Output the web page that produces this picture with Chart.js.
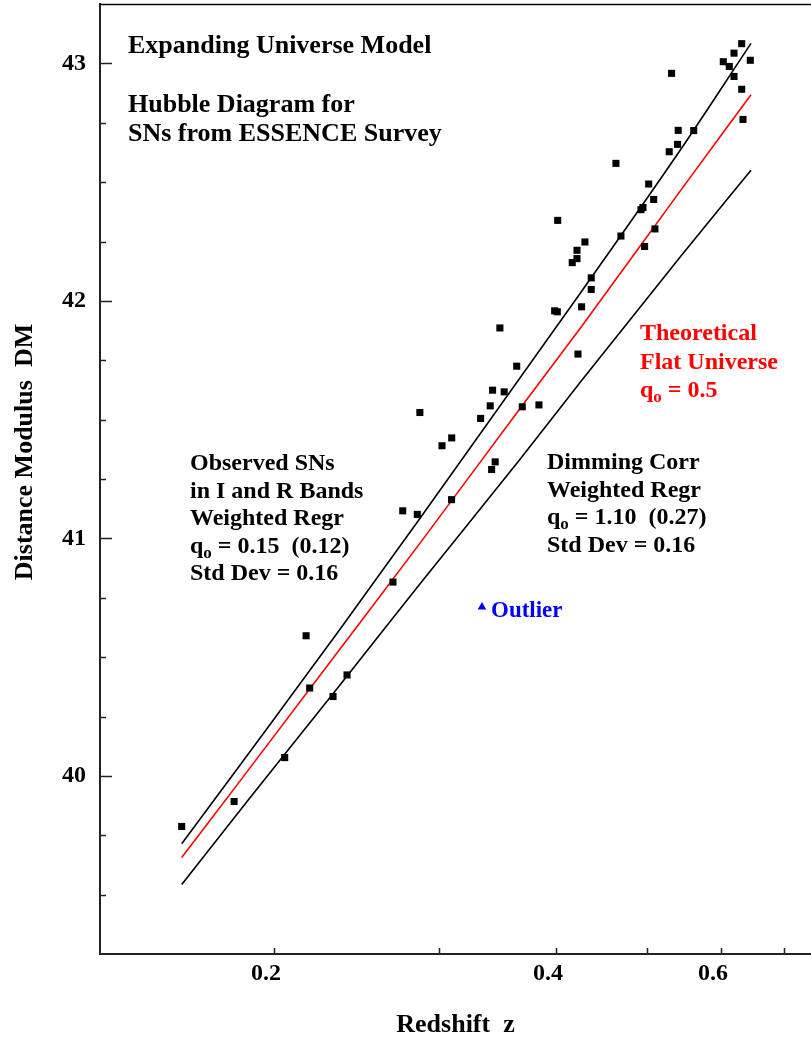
<!DOCTYPE html>
<html>
<head>
<meta charset="utf-8">
<script src="https://cdn.jsdelivr.net/npm/chart.js@4/dist/chart.umd.min.js"></script>
<style>
  html, body { margin: 0; padding: 0; background: #fff; }
  #wrap { width: 811px; height: 1041px; }
</style>
</head>
<body>
<div id="wrap"><canvas id="hubble" width="811" height="1041"></canvas></div>
<script>
// === Data ===
// observed supernovae (redshift z, distance modulus DM)
const zSN = [0.1594, 0.1813, 0.2053, 0.2164, 0.2183, 0.2312, 0.2393, 0.2679, 0.2744, 0.2844,
  0.2862, 0.3022, 0.3095, 0.3094, 0.3323, 0.3402, 0.3414, 0.3422, 0.3444, 0.3484,
  0.3521, 0.3631, 0.3681, 0.3835, 0.3986, 0.4012, 0.4016, 0.4162, 0.4211, 0.4211,
  0.4221, 0.4259, 0.4294, 0.4361, 0.4361, 0.4634, 0.4691, 0.4928, 0.4952, 0.4972,
  0.5022, 0.5084, 0.5100, 0.5282, 0.5313, 0.5392, 0.5400, 0.5610, 0.6033, 0.6122,
  0.6194, 0.6194, 0.6312, 0.6312, 0.6332, 0.6447];
const dmSN = [39.787, 39.892, 40.077, 40.590, 40.370, 40.334, 40.425, 40.816, 41.116, 41.101,
  41.530, 41.390, 41.423, 41.163, 41.505, 41.558, 41.290, 41.624, 41.322, 41.886,
  41.617, 41.725, 41.554, 41.562, 41.958, 41.954, 42.339, 42.161, 42.178, 42.213,
  41.776, 41.975, 42.248, 42.097, 42.048, 42.579, 42.273, 42.384, 42.393, 42.229,
  42.492, 42.427, 42.303, 42.628, 42.958, 42.659, 42.718, 42.717, 43.007, 42.987,
  43.043, 42.945, 43.083, 42.891, 42.764, 43.013];

// outlier
const zOutlier = [0.3334];
const dmOutlier = [40.711];

// weighted regression of observed SNs (upper black line)
const zFitObs = [0.1594, 0.1840, 0.2352, 0.2862, 0.4243, 0.5426, 0.6458];
const dmFitObs = [39.714, 40.046, 40.617, 41.084, 42.031, 42.634, 43.084];

// theoretical flat universe q0 = 0.5 (red line)
const zTheory = [0.1594, 0.1840, 0.2352, 0.2862, 0.3661, 0.4243, 0.5426, 0.6458];
const dmTheory = [39.656, 39.979, 40.534, 40.979, 41.547, 41.884, 42.462, 42.868];

// dimming corrected regression (lower black line)
const zFitDim = [0.1594, 0.1878, 0.2352, 0.2862, 0.3661, 0.4261, 0.5426, 0.6458];
const dmFitDim = [39.543, 39.899, 40.383, 40.808, 41.333, 41.666, 42.185, 42.550];

// axes
const xTickVals = [0.2, 0.3, 0.4, 0.5, 0.6, 0.7];
const xTickLabels = ['0.2', '', '0.4', '', '0.6', ''];
const yTickVals = [39.5, 39.75, 40, 40.25, 40.5, 40.75, 41, 41.25, 41.5, 41.75,
  42, 42.25, 42.5, 42.75, 43];
const yTitle = 'Distance Modulus  DM';

const FONT = "'Liberation Serif', 'Times New Roman', serif";

const pts = (xs, ys) => xs.map((v, i) => ({ x: v, y: ys[i] }));

// text blocks drawn on the plot; '_o' = subscript
const notes = [
  { x: 128, y: 53, gap: 29, size: 26, color: '#000', lines: [['Expanding Universe Model']] },
  { x: 128, y: 112, gap: 29, size: 26, color: '#000', lines: [['Hubble Diagram for'], ['SNs from ESSENCE Survey']] },
  { x: 640, y: 340, gap: 28.5, size: 24, color: '#ff0000', lines: [['Theoretical'], ['Flat Universe'], ['q', '_o', ' = 0.5']] },
  { x: 190, y: 470, gap: 27.5, size: 24, color: '#000', lines: [['Observed SNs'], ['in I and R Bands'], ['Weighted Regr'],
      ['q', '_o', ' = 0.15  (0.12)'], ['Std Dev = 0.16']] },
  { x: 547, y: 469, gap: 27.5, size: 24, color: '#000', lines: [['Dimming Corr'], ['Weighted Regr'],
      ['q', '_o', ' = 1.10  (0.27)'], ['Std Dev = 0.16']] },
  { x: 491, y: 617, gap: 28, size: 23, color: '#0000ff', lines: [['Outlier']] }
];

function drawParts(ctx, x, y, parts, size) {
  let cx = x;
  parts.forEach(p => {
    const sub = p.startsWith('_');
    const txt = sub ? p.slice(1) : p;
    ctx.font = `bold ${sub ? Math.round(size * 0.72) : size}px ${FONT}`;
    ctx.fillText(txt, cx, sub ? y + size * 0.22 : y);
    cx += ctx.measureText(txt).width;
  });
}

// inward ticks, top frame line, y title and text
const frameAndNotes = {
  id: 'frameAndNotes',
  afterDraw(chart) {
    const { ctx, chartArea: a, scales: { x, y } } = chart;
    ctx.save();
    ctx.strokeStyle = '#222';
    ctx.lineWidth = 1.5;
    ctx.beginPath();
    y.ticks.forEach(t => {
      const py = Math.round(y.getPixelForValue(t.value)) + 0.5;
      const len = Number.isInteger(t.value) ? 12 : 6;
      ctx.moveTo(a.left, py);
      ctx.lineTo(a.left + len, py);
    });
    x.ticks.forEach(t => {
      const px = Math.round(x.getPixelForValue(t.value)) + 0.5;
      ctx.moveTo(px, a.bottom);
      ctx.lineTo(px, a.bottom - 6);
    });
    ctx.stroke();

    ctx.strokeStyle = '#000';
    ctx.beginPath();
    ctx.moveTo(a.left, a.top + 0.5);
    ctx.lineTo(chart.width, a.top + 0.5);
    ctx.stroke();

    // y axis title, a bit above the axis centre as in the original
    ctx.save();
    ctx.translate(25, 452);
    ctx.rotate(-Math.PI / 2);
    ctx.fillStyle = '#000';
    ctx.font = `bold 26px ${FONT}`;
    ctx.textAlign = 'center';
    ctx.textBaseline = 'middle';
    ctx.fillText(yTitle, 0, 0);
    ctx.restore();

    ctx.textAlign = 'left';
    ctx.textBaseline = 'alphabetic';
    notes.forEach(n => {
      ctx.fillStyle = n.color;
      n.lines.forEach((ln, i) => drawParts(ctx, n.x, n.y + i * n.gap, ln, n.size));
    });
    ctx.restore();
  }
};

new Chart(document.getElementById('hubble'), {
  type: 'scatter',
  data: {
    datasets: [
      {
        label: 'SNs',
        data: pts(zSN, dmSN),
        pointStyle: 'rect',
        pointRadius: 5,
        backgroundColor: '#000',
        borderWidth: 0
      },
      {
        label: 'Outlier',
        data: pts(zOutlier, dmOutlier),
        pointStyle: 'triangle',
        pointRadius: 5,
        backgroundColor: '#0000ff',
        borderWidth: 0
      },
      {
        label: 'Observed regr',
        data: pts(zFitObs, dmFitObs),
        showLine: true,
        pointRadius: 0,
        borderColor: '#000',
        borderWidth: 1.6,
        cubicInterpolationMode: 'monotone'
      },
      {
        label: 'Theory',
        data: pts(zTheory, dmTheory),
        showLine: true,
        pointRadius: 0,
        borderColor: '#ff0000',
        borderWidth: 1.6,
        cubicInterpolationMode: 'monotone'
      },
      {
        label: 'Dimming regr',
        data: pts(zFitDim, dmFitDim),
        showLine: true,
        pointRadius: 0,
        borderColor: '#000',
        borderWidth: 1.6,
        cubicInterpolationMode: 'monotone'
      }
    ]
  },
  options: {
    responsive: false,
    animation: false,
    layout: { autoPadding: false, padding: { top: 4, right: 0, bottom: 0, left: 0 } },
    plugins: { legend: { display: false }, tooltip: { enabled: false } },
    scales: {
      x: {
        type: 'logarithmic',
        min: 0.1304,
        max: 0.7484,
        afterBuildTicks: s => { s.ticks = xTickVals.map(v => ({ value: v })); },
        afterFit: s => { s.height = 87; s.paddingLeft = 0; s.paddingRight = 0; },
        grid: { display: false, drawTicks: false },
        border: { display: true, color: '#222', width: 2 },
        ticks: {
          padding: 5,
          labelOffset: -8,
          color: '#000',
          font: { family: FONT, size: 24, weight: 'bold' },
          callback: (v, i) => xTickLabels[i]
        },
        title: {
          display: true,
          text: 'Redshift  z',
          color: '#000',
          padding: { top: 1, bottom: 0 },
          font: { family: FONT, size: 26, weight: 'bold' }
        }
      },
      y: {
        type: 'linear',
        min: 39.25,
        max: 43.25,
        afterBuildTicks: s => { s.ticks = yTickVals.map(v => ({ value: v })); },
        afterFit: s => { s.width = 100; s.paddingTop = 0; s.paddingBottom = 0; },
        grid: { display: false, drawTicks: false },
        border: { display: true, color: '#222', width: 2 },
        ticks: {
          padding: 14,
          color: '#000',
          font: { family: FONT, size: 24, weight: 'bold' },
          callback: v => Number.isInteger(v) ? String(v) : ''
        },
        title: { display: false }
      }
    }
  },
  plugins: [frameAndNotes]
});
</script>
</body>
</html>
